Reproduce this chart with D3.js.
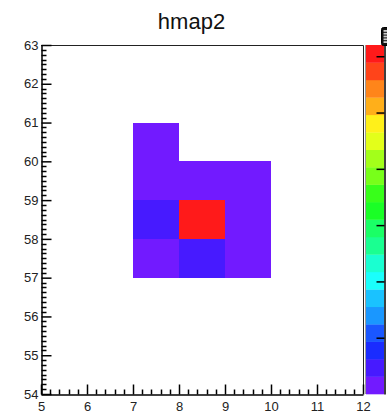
<!DOCTYPE html>
<html>
<head>
<meta charset="utf-8">
<script src="https://cdn.jsdelivr.net/npm/d3@7"></script>
<style>
  html, body { margin: 0; padding: 0; background: #fff; }
  svg { display: block; font-family: "Liberation Sans", Arial, Helvetica, sans-serif; }
</style>
</head>
<body>
<svg id="chart" width="387" height="413"></svg>
<script>
// ---- histogram content (bin lower edges, bin width 1) ----
const title = "hmap2";
const cellX = [7, 7, 8, 9, 7, 8, 9, 7, 8, 9];
const cellY = [60, 59, 59, 59, 58, 58, 58, 57, 57, 57];
const cellZ = [1, 1, 1, 1, 1.5, 7.2, 1, 1, 1.5, 1];
const binWidth = 1;

// ---- axis ranges and ticks ----
const xRange = [5, 12];
const yRange = [54, 63];
const xTicks = [5, 6, 7, 8, 9, 10, 11, 12];
const yTicks = [54, 55, 56, 57, 58, 59, 60, 61, 62, 63];
const zTicks = [2, 3, 4, 5, 6, 7];
const nContours = 20;

// ---- layout ----
const frame = { left: 41, right: 363, top: 45, bottom: 394 };
const pal = { left: 366, right: 384 };

const svg = d3.select("#chart");

const x = d3.scaleLinear().domain(xRange).range([frame.left, frame.right]);
const y = d3.scaleLinear().domain(yRange).range([frame.bottom, frame.top]);

// "Pretty" violet -> red palette: 50 saturated hues, sampled for 20 contour levels
const pretty = d3.range(50).map(i => d3.hsl(280 - (i + 1) * (280 / 50), 1, 0.55).formatHex());
const levelColor = k => pretty[Math.min(49, Math.floor((k + 0.99) * pretty.length / nContours))];

const zMin = d3.min(cellZ), zMax = d3.max(cellZ);
const zLevel = v => Math.max(0, Math.min(nContours - 1, Math.floor((v - zMin) / (zMax - zMin) * nContours)));

// ---- cells ----
const cells = cellX.map((cx, i) => ({ x: cx, y: cellY[i], z: cellZ[i] }));
svg.append("g").selectAll("rect").data(cells).join("rect")
  .attr("x", d => x(d.x))
  .attr("y", d => y(d.y + binWidth))
  .attr("width", d => x(d.x + binWidth) - x(d.x))
  .attr("height", d => y(d.y) - y(d.y + binWidth))
  .attr("fill", d => levelColor(zLevel(d.z)))
  .attr("shape-rendering", "crispEdges");

// ---- frame (top / right) ----
svg.append("path")
  .attr("d", `M${frame.left},${frame.top + 0.5}H${frame.right + 0.5}V${frame.bottom}`)
  .attr("fill", "none").attr("stroke", "#222").attr("stroke-width", 1);

// ---- axes ----
const fontSize = 13;
const xAxis = d3.axisBottom(x).tickValues(xTicks).tickFormat(d3.format("d"))
  .tickSizeInner(-10).tickSizeOuter(0).tickPadding(7);
const gx = svg.append("g").attr("transform", `translate(0,${frame.bottom + 0.5})`).call(xAxis);

const yAxis = d3.axisLeft(y).tickValues(yTicks).tickFormat(d3.format("d"))
  .tickSizeInner(-10).tickSizeOuter(0).tickPadding(3);
const gy = svg.append("g").attr("transform", `translate(${frame.left + 0.5},0)`).call(yAxis);

// minor ticks
const xMinor = d3.range(xRange[0], xRange[1] + 1e-9, 0.2).filter(v => Math.abs(v - Math.round(v)) > 1e-6);
const yMinor = d3.range(yRange[0], yRange[1] + 1e-9, 0.125).filter(v => Math.abs(v - Math.round(v)) > 1e-6);
gx.selectAll(".minor").data(xMinor).join("line").attr("class", "minor")
  .attr("x1", d => Math.round(x(d)) + 0.5).attr("x2", d => Math.round(x(d)) + 0.5)
  .attr("y1", 0).attr("y2", -5);
gy.selectAll(".minor").data(yMinor).join("line").attr("class", "minor")
  .attr("y1", d => Math.round(y(d)) + 0.5).attr("y2", d => Math.round(y(d)) + 0.5)
  .attr("x1", 0).attr("x2", 5);

[gx, gy].forEach(g => {
  g.selectAll("path.domain").attr("stroke", "#000").attr("stroke-width", 1.5);
  g.selectAll("line").attr("stroke", "#000").attr("stroke-width", 1.5);
  g.selectAll("text").attr("font-size", fontSize).attr("fill", "#222")
    .attr("font-family", "'Liberation Sans', Arial, sans-serif");
});

// ---- palette (z axis); its labels sit beyond the right edge of the canvas ----
const z = d3.scaleLinear().domain([zMin, zMax]).range([frame.bottom, frame.top]);
const levels = d3.range(nContours);
const levelH = (frame.bottom - frame.top) / nContours;
svg.append("g").selectAll("rect").data(levels).join("rect")
  .attr("x", pal.left)
  .attr("y", k => frame.bottom - (k + 1) * levelH)
  .attr("width", pal.right - pal.left)
  .attr("height", levelH + 0.3)
  .attr("fill", k => levelColor(k));
svg.append("line")
  .attr("x1", pal.left - 0.5).attr("x2", pal.left - 0.5)
  .attr("y1", frame.top).attr("y2", frame.bottom)
  .attr("stroke", "#999").attr("stroke-width", 1);

const zAxis = d3.axisRight(z).tickValues(zTicks).tickFormat("")
  .tickSizeInner(-8).tickSizeOuter(0);
const gz = svg.append("g").attr("transform", `translate(${pal.right + 0.5},0)`).call(zAxis);
gz.selectAll("path.domain").attr("stroke", "#000").attr("stroke-width", 1.5);
gz.selectAll("line").attr("stroke", "#000").attr("stroke-width", 1.5);

// small palette-editor button above the z axis
const btn = svg.append("g").attr("transform", "translate(381.5,27.5)");
btn.append("rect").attr("width", 8).attr("height", 18).attr("rx", 2)
  .attr("fill", "#111").attr("stroke", "#000");
btn.selectAll(".cell").data(d3.range(5)).join("rect").attr("class", "cell")
  .attr("x", 2).attr("y", k => 2.5 + k * 2.8).attr("width", 4).attr("height", 1.8)
  .attr("fill", "#ccc");

// ---- title ----
svg.append("text")
  .attr("x", 191.5).attr("y", 29)
  .attr("text-anchor", "middle")
  .attr("font-size", 22)
  .attr("fill", "#111")
  .text(title);
</script>
</body>
</html>
